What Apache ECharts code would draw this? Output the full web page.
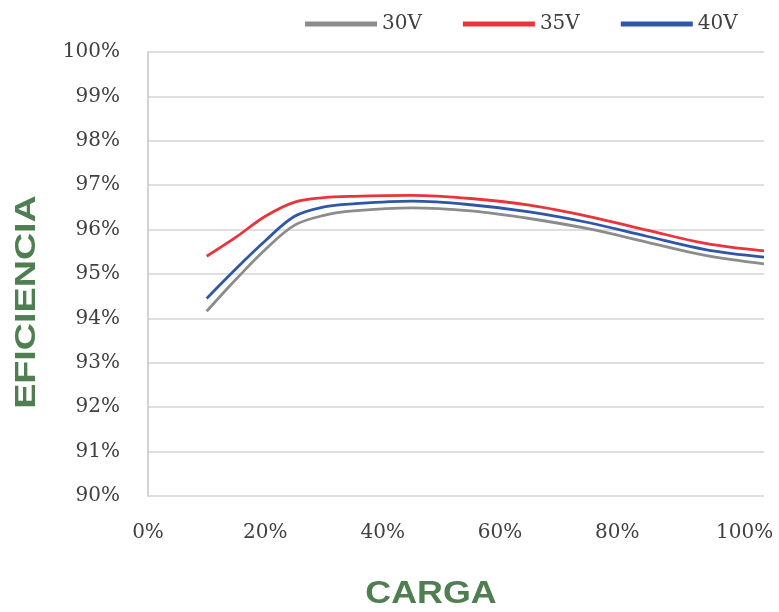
<!DOCTYPE html>
<html>
<head>
<meta charset="utf-8">
<script src="https://cdn.jsdelivr.net/npm/echarts@6/dist/echarts.min.js"></script>
<style>html,body{margin:0;padding:0;background:#fff}#c{width:779px;height:612px}</style>
</head>
<body>
<div id="c"></div>
<script>
var loadX = [10, 15, 20, 25, 30, 35, 45, 55, 65, 75, 85, 95, 105];
var eff30V = [94.16, 94.88, 95.55, 96.10, 96.32, 96.42, 96.49, 96.42, 96.25, 96.02, 95.72, 95.42, 95.23];
var eff35V = [95.40, 95.83, 96.30, 96.62, 96.72, 96.75, 96.77, 96.70, 96.55, 96.30, 95.99, 95.69, 95.52];
var eff40V = [94.45, 95.12, 95.75, 96.30, 96.51, 96.58, 96.64, 96.56, 96.40, 96.16, 95.85, 95.55, 95.38];
var seriesNames = ['30V', '35V', '40V'];
var xTitle = 'CARGA';
var yTitle = 'EFICIENCIA';

function pairs(xs, ys) { return xs.map(function (x, i) { return [x, ys[i]]; }); }

var labelFont = 'DejaVu Serif';
var chart = echarts.init(document.getElementById('c'), null, {renderer: 'canvas'});
var colors = ['#8c8c8c', '#e8343b', '#2f57a7'];
var all = [eff30V, eff35V, eff40V];
chart.setOption({
  animation: false,
  backgroundColor: '#ffffff',
  grid: {left: 148, right: 15, top: 52, bottom: 116, containLabel: false},
  legend: {
    left: 300, top: 9, icon: 'rect', itemWidth: 72, itemHeight: 5, itemGap: 41,
    textStyle: {fontFamily: labelFont, fontSize: 20, color: '#404040'},
    data: seriesNames
  },
  xAxis: {
    type: 'value', min: 0, max: 105, interval: 20,
    axisLine: {show: false}, axisTick: {show: false}, splitLine: {show: false},
    axisLabel: {
      showMaxLabel: false, margin: 27, fontFamily: labelFont, fontSize: 20, color: '#404040',
      formatter: function (v) { return v === 100 ? '{r|100%}' : v + '%'; },
      rich: {r: {fontFamily: labelFont, fontSize: 20, color: '#404040', padding: [0, 0, 0, 20]}}
    }
  },
  yAxis: {
    type: 'value', min: 90, max: 100, interval: 1,
    axisLine: {show: true, lineStyle: {color: '#c4c4c4', width: 1.5}},
    axisTick: {show: false},
    splitLine: {show: true, lineStyle: {color: '#d4d4d4', width: 1.5}},
    axisLabel: {margin: 28, fontFamily: labelFont, fontSize: 20, color: '#404040', formatter: '{value}%'}
  },
  graphic: [
    {type: 'text', x: 27, y: 302, rotation: Math.PI / 2, scaleX: 1.3,
     style: {text: yTitle, font: 'bold 29px "Liberation Sans", Arial', fill: '#4f7f50', align: 'center', verticalAlign: 'middle'}},
    {type: 'text', x: 431, y: 594, scaleX: 1.12,
     style: {text: xTitle, font: 'bold 32px "Liberation Sans", Arial', fill: '#4f7f50', align: 'center', verticalAlign: 'middle'}}
  ],
  series: seriesNames.map(function (n, i) {
    return {
      name: n, type: 'line', smooth: 0.35, showSymbol: false, symbol: 'none',
      data: pairs(loadX, all[i]),
      lineStyle: {color: colors[i], width: 2.8},
      itemStyle: {color: colors[i]}
    };
  })
});
</script>
</body>
</html>
